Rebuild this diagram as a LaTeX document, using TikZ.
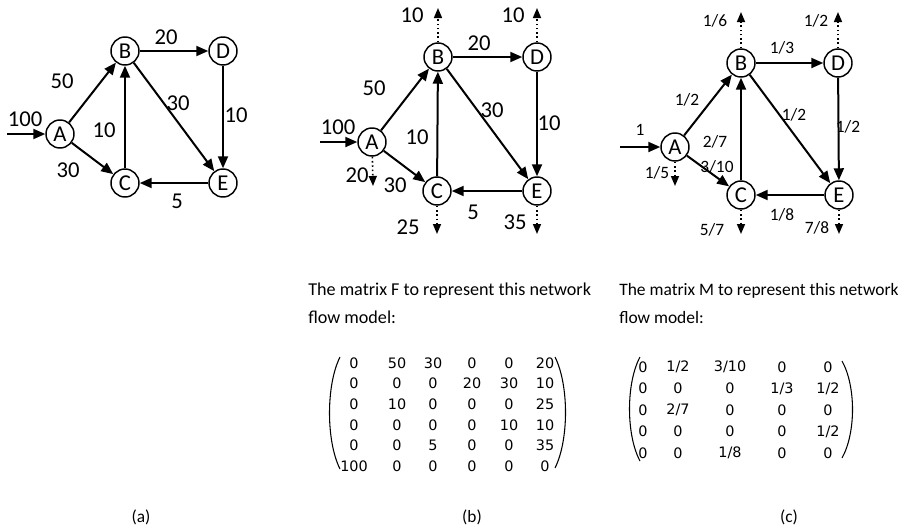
\documentclass[tikz,border=0pt]{standalone}
\usepackage{fontspec}
\setmainfont{Carlito}
\newfontfamily\matfont{DejaVu Sans}
\usetikzlibrary{arrows.meta}
\tikzset{
  vtx/.style={circle,draw,line width=1.1pt,minimum size=21pt,inner sep=0pt,font=\fontsize{17pt}{19pt}\selectfont},
  edge/.style={line width=1.5pt,-{Triangle[length=9pt,width=7.5pt]}},
  outedge/.style={line width=1.2pt,dotted,-{Triangle[length=7.5pt,width=6pt]}},
  lbl/.style={inner sep=0pt,font=\fontsize{17pt}{19pt}\selectfont},
  lblsm/.style={inner sep=0pt,font=\fontsize{13pt}{15pt}\selectfont},
  para/.style={inner sep=0pt,anchor=base west,font=\fontsize{13.6pt}{16pt}\selectfont},
  paraM/.style={inner sep=0pt,anchor=base west,font=\fontsize{13.1pt}{16pt}\selectfont},
  matF/.style={inner sep=0pt,font=\fontsize{10.8pt}{12pt}\matfont},
  paren/.style={line width=0.8pt},
  captext/.style={inner sep=0pt,font=\fontsize{13pt}{15pt}\selectfont}
}
\begin{document}
\begin{tikzpicture}[x=0.75pt,y=-0.75pt]
\useasboundingbox (0,0) rectangle (906,529);
% ---------- (a)
\node[vtx] (aA) at (60,134) {A};
\node[vtx] (aB) at (125,51) {B};
\node[vtx] (aC) at (125,183) {C};
\node[vtx] (aD) at (223,51) {D};
\node[vtx] (aE) at (223,183) {E};
\coordinate (ain) at (7,134);
\draw[edge] (ain) -- (aA);
\draw[edge] (aA) -- (aB);
\draw[edge] (aA) -- (aC);
\draw[edge] (aB) -- (aD);
\draw[edge] (aB) -- (aE);
\draw[edge] (aD) -- (aE);
\draw[edge] (aE) -- (aC);
\draw[edge] (aC) -- (aB);
\node[lbl] (la1) at (25,119) {100};
\node[lbl] (la2) at (62,81) {50};
\node[lbl] (la3) at (68,170) {30};
\node[lbl] (la4) at (104,130) {10};
\node[lbl] (la5) at (166,37) {20};
\node[lbl] (la6) at (178,103) {30};
\node[lbl] (la7) at (236,115) {10};
\node[lbl] (la8) at (177,201) {5};
% ---------- (b)
\node[vtx] (bA) at (372,142) {A};
\node[vtx] (bB) at (438,57) {B};
\node[vtx] (bC) at (437,191) {C};
\node[vtx] (bD) at (537,57) {D};
\node[vtx] (bE) at (537,191) {E};
\coordinate (bin) at (320,142);
\coordinate (boA) at (373,186);
\coordinate (boB) at (438,8);
\coordinate (boC) at (437,234);
\coordinate (boD) at (537,8);
\coordinate (boE) at (537,234);
\draw[edge] (bin) -- (bA);
\draw[edge] (bA) -- (bB);
\draw[edge] (bA) -- (bC);
\draw[edge] (bB) -- (bD);
\draw[edge] (bB) -- (bE);
\draw[edge] (bD) -- (bE);
\draw[edge] (bE) -- (bC);
\draw[edge] (bC) -- (bB);
\draw[outedge] (bA) -- (boA);
\draw[outedge] (bB) -- (boB);
\draw[outedge] (bC) -- (boC);
\draw[outedge] (bD) -- (boD);
\draw[outedge] (bE) -- (boE);
\node[lbl] (lb1) at (338,127) {100};
\node[lbl] (lb2) at (374,88) {50};
\node[lbl] (lb3) at (395,185) {30};
\node[lbl] (lb4) at (357,175) {20};
\node[lbl] (lb5) at (417,137) {10};
\node[lbl] (lb6) at (479,43) {20};
\node[lbl] (lb7) at (492,110) {30};
\node[lbl] (lb8) at (549,123) {10};
\node[lbl] (lb9) at (473,212) {5};
\node[lbl] (lb10) at (412,15) {10};
\node[lbl] (lb11) at (513,15) {10};
\node[lbl] (lb12) at (408,227) {25};
\node[lbl] (lb13) at (515,222) {35};
% ---------- (c)
\node[vtx] (cA) at (675,147) {A};
\node[vtx] (cB) at (741,63) {B};
\node[vtx] (cC) at (741,195) {C};
\node[vtx] (cD) at (838,63) {D};
\node[vtx] (cE) at (839,195) {E};
\coordinate (cin) at (620,147);
\coordinate (coA) at (675,186);
\coordinate (coB) at (741,12);
\coordinate (coC) at (741,234);
\coordinate (coD) at (838,12);
\coordinate (coE) at (839,234);
\draw[edge] (cin) -- (cA);
\draw[edge] (cA) -- (cB);
\draw[edge] (cA) -- (cC);
\draw[edge] (cB) -- (cD);
\draw[edge] (cB) -- (cE);
\draw[edge] (cD) -- (cE);
\draw[edge] (cE) -- (cC);
\draw[edge] (cC) -- (cB);
\draw[outedge] (cA) -- (coA);
\draw[outedge] (cB) -- (coB);
\draw[outedge] (cC) -- (coC);
\draw[outedge] (cD) -- (coD);
\draw[outedge] (cE) -- (coE);
\node[lblsm] (lc1) at (640,130) {1};
\node[lblsm] (lc2) at (687,100) {1/2};
\node[lblsm] (lc3) at (717,167) {3/10};
\node[lblsm] (lc4) at (657,173) {1/5};
\node[lblsm] (lc5) at (715,142) {2/7};
\node[lblsm] (lc6) at (782,48) {1/3};
\node[lblsm] (lc7) at (794,115) {1/2};
\node[lblsm] (lc8) at (848,127) {1/2};
\node[lblsm] (lc9) at (782,215) {1/8};
\node[lblsm] (lc10) at (715,21) {1/6};
\node[lblsm] (lc11) at (816,21) {1/2};
\node[lblsm] (lc12) at (712,230) {5/7};
\node[lblsm] (lc13) at (817,228) {7/8};
% ---------- texts
\node[para] (tF1) at (308,295) {The matrix F to represent this network};
\node[para] (tF2) at (308,323) {flow model:};
\node[paraM] (tM1) at (619,295) {The matrix M to represent this network};
\node[paraM] (tM2) at (619,323) {flow model:};
% ---------- matrix F
\foreach \a/\b/\c/\d/\e/\f [count=\i from 0] in {0/50/30/0/0/20,0/0/0/20/30/10,0/10/0/0/0/25,0/0/0/0/10/10,0/0/5/0/0/35,100/0/0/0/0/0}{
  \pgfmathsetmacro\yy{363+20.6*\i}
  \node[matF] (F\i a) at (354,\yy) {\a};
  \node[matF] (F\i b) at (397,\yy) {\b};
  \node[matF] (F\i c) at (433,\yy) {\c};
  \node[matF] (F\i d) at (472,\yy) {\d};
  \node[matF] (F\i e) at (509,\yy) {\e};
  \node[matF] (F\i f) at (545,\yy) {\f};
}
\draw[paren] (340,357) .. controls (326,385) and (326,441) .. (340,469);
\draw[paren] (555,357) .. controls (569,385) and (569,440) .. (555,468);
% ---------- matrix M
\foreach \a/\b/\c/\d/\e [count=\i from 0] in {0/1\slash 2/3\slash 10/0/0,0/0/0/1\slash 3/1\slash 2,0/2\slash 7/0/0/0,0/0/0/0/1\slash 2,0/0/1\slash 8/0/0}{
  \pgfmathsetmacro\yy{367+21.5*\i}
  \node[matF] (M\i a) at (643,\yy) {\a};
  \node[matF] (M\i b) at (678,\yy) {\b};
  \node[matF] (M\i c) at (730,\yy) {\c};
  \node[matF] (M\i d) at (782,\yy) {\d};
  \node[matF] (M\i e) at (828,\yy) {\e};
}
\draw[paren] (640,357) .. controls (626,383) and (626,435) .. (640,461);
\draw[paren] (842,361) .. controls (856,386) and (856,433) .. (842,458);
% ---------- captions
\node[captext] (capa) at (141,517) {(a)};
\node[captext] (capb) at (472,517) {(b)};
\node[captext] (capc) at (789,517) {(c)};
\end{tikzpicture}
\end{document}
